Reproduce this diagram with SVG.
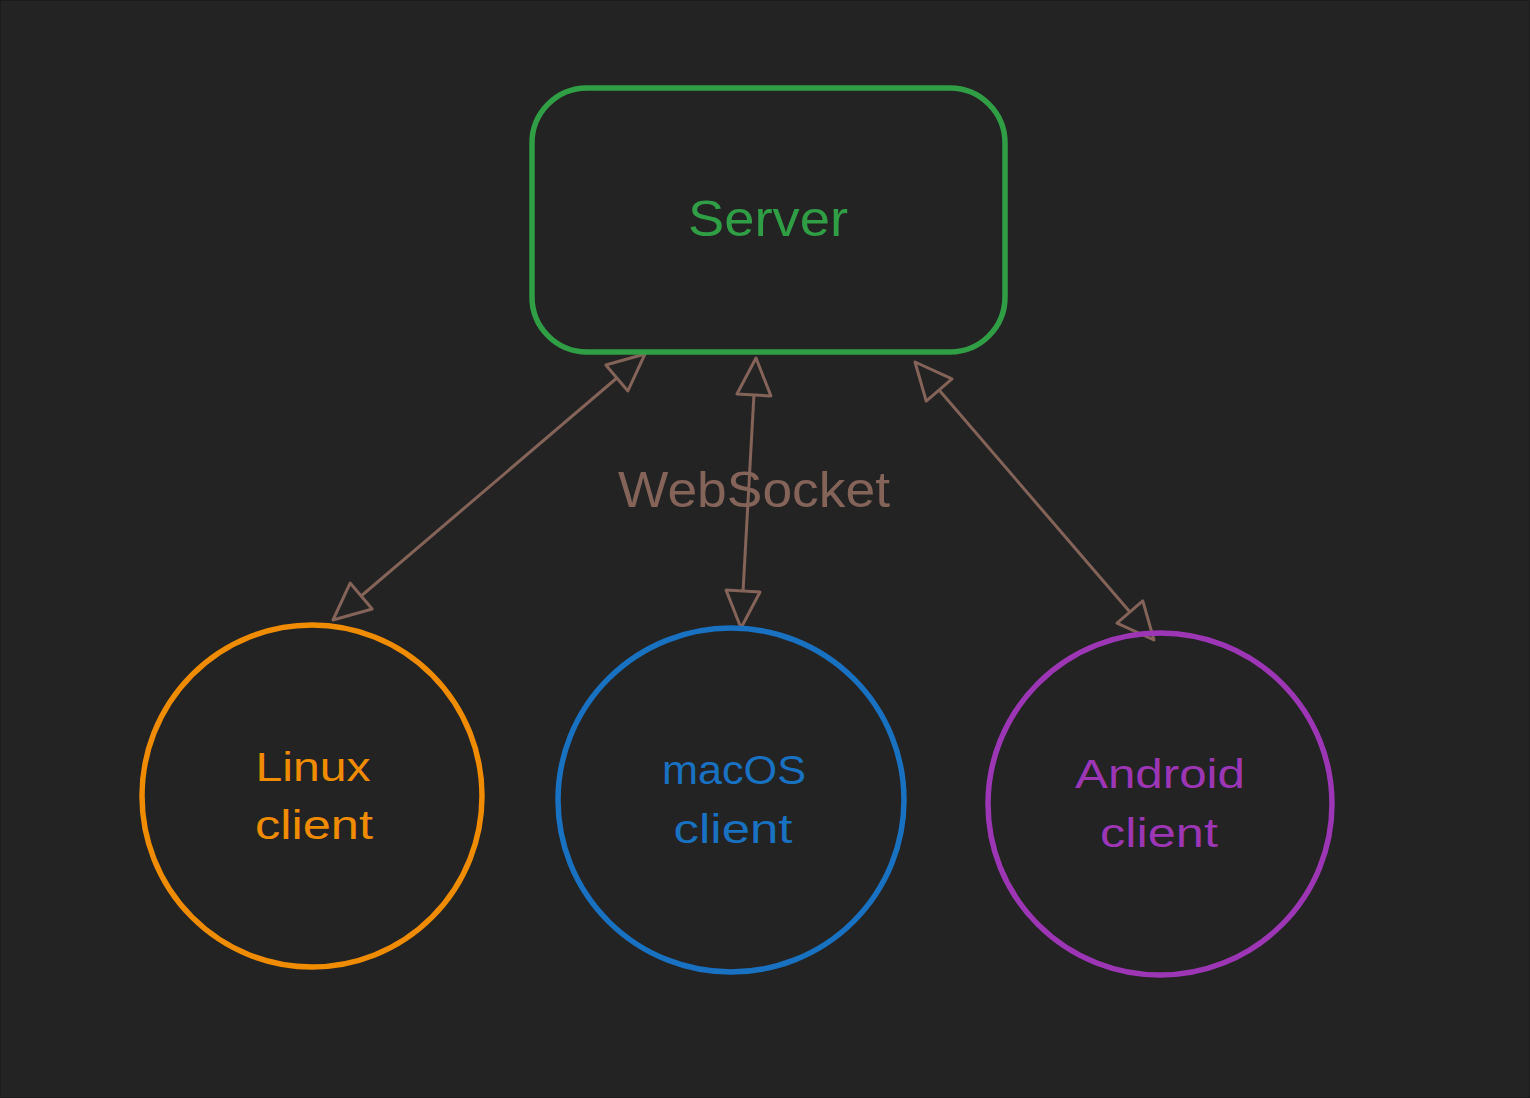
<svg xmlns="http://www.w3.org/2000/svg" width="1530" height="1098" viewBox="0 0 1530 1098">
<style>
.lbl{font-family:"Liberation Sans","DejaVu Sans",sans-serif;text-anchor:middle}
.node{fill:none;stroke-width:5.5}
.conn{stroke:#846358;stroke-width:3;fill:none;marker-start:url(#ah);marker-end:url(#ah)}
</style>
<defs>
<marker id="ah" markerUnits="userSpaceOnUse" markerWidth="44" markerHeight="44" viewBox="-3 -21 44 42" refX="37" refY="0" orient="auto-start-reverse">
<path d="M0,-17 L37,0 L0,17 Z" fill="#232323" stroke="#846358" stroke-width="3" stroke-linejoin="round"/>
</marker>
</defs>
<rect x="0" y="0" width="1530" height="1098" fill="#232323"/>
<rect x="0.5" y="0.5" width="1529" height="1097" fill="none" stroke="#1b1b1b" stroke-width="1"/>
<g id="connectors">
<line class="conn" x1="645" y1="354" x2="333" y2="620"/>
<line class="conn" x1="756" y1="358" x2="741" y2="628"/>
<line class="conn" x1="915" y1="362" x2="1154" y2="640"/>
<text class="lbl" x="754" y="507" font-size="50" fill="#846358" textLength="272" lengthAdjust="spacingAndGlyphs">WebSocket</text>
</g>
<g id="server">
<rect class="node" x="532" y="88" width="473" height="264" rx="55" stroke="#2f9e44"/>
<text class="lbl" x="768" y="236" font-size="50" fill="#2f9e44" textLength="160" lengthAdjust="spacingAndGlyphs">Server</text>
</g>
<g id="linux">
<ellipse class="node" cx="312" cy="796" rx="170" ry="171" stroke="#f08c00"/>
<text class="lbl" x="313" y="781" font-size="41" fill="#f08c00" textLength="115" lengthAdjust="spacingAndGlyphs">Linux</text>
<text class="lbl" x="314" y="839" font-size="41" fill="#f08c00" textLength="118" lengthAdjust="spacingAndGlyphs">client</text>
</g>
<g id="macos">
<ellipse class="node" cx="731" cy="800" rx="173" ry="172" stroke="#1971c2"/>
<text class="lbl" x="734" y="784" font-size="41" fill="#1971c2" textLength="144" lengthAdjust="spacingAndGlyphs">macOS</text>
<text class="lbl" x="733" y="843" font-size="41" fill="#1971c2" textLength="119" lengthAdjust="spacingAndGlyphs">client</text>
</g>
<g id="android">
<ellipse class="node" cx="1160" cy="804" rx="172" ry="171" stroke="#9c36b5"/>
<text class="lbl" x="1160" y="788" font-size="41" fill="#9c36b5" textLength="170" lengthAdjust="spacingAndGlyphs">Android</text>
<text class="lbl" x="1159" y="847" font-size="41" fill="#9c36b5" textLength="118" lengthAdjust="spacingAndGlyphs">client</text>
</g>
</svg>
